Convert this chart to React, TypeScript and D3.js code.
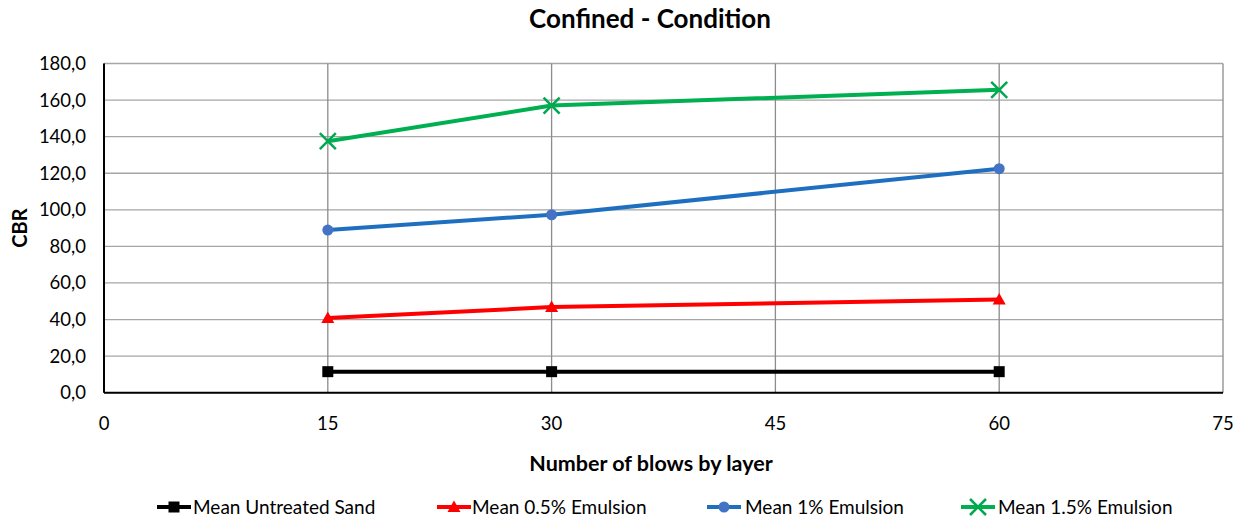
import React from "react";
import * as d3 from "d3";

const xValues = [15, 30, 60];
const untreated = [11.5, 11.5, 11.5];
const emul05 = [40.8, 46.8, 51.0];
const emul1 = [88.9, 97.3, 122.5];
const emul15 = [137.5, 157.0, 165.6];
const xTicks = [0, 15, 30, 45, 60, 75];
const yTicks = [0, 20, 40, 60, 80, 100, 120, 140, 160, 180];

const seriesList = [
  { name: "Mean Untreated Sand", values: untreated, color: "#000000", marker: "square", mcolor: "#000000" },
  { name: "Mean 0.5% Emulsion", values: emul05, color: "#ff0000", marker: "triangle", mcolor: "#ff0000" },
  { name: "Mean 1% Emulsion", values: emul1, color: "#1f6fc0", marker: "circle", mcolor: "#4472c4" },
  { name: "Mean 1.5% Emulsion", values: emul15, color: "#00b050", marker: "x", mcolor: "#00a84f" },
];

const FONT = "Lato, 'Open Sans', sans-serif";

function Marker({ type, x, y, color }: { type: string; x: number; y: number; color: string }) {
  if (type === "square") return <rect x={x - 5.5} y={y - 5.5} width={11} height={11} fill={color} />;
  if (type === "triangle") return <path d={`M${x},${y - 6.5} L${x + 6.5},${y + 5} L${x - 6.5},${y + 5} Z`} fill={color} />;
  if (type === "circle") return <circle cx={x} cy={y} r={5.5} fill={color} />;
  return (
    <g stroke={color} strokeWidth={2.5}>
      <line x1={x - 8} y1={y - 8} x2={x + 8} y2={y + 8} />
      <line x1={x - 8} y1={y + 8} x2={x + 8} y2={y - 8} />
    </g>
  );
}

export default function App() {
  const W = 1251, H = 520;
  const left = 104, right = 1223, top = 63.5, bottom = 392.7;
  const x = d3.scaleLinear().domain([0, 75]).range([left, right]);
  const y = d3.scaleLinear().domain([0, 180]).range([bottom, top]);
  const line = d3.line<[number, number]>().x(d => x(d[0])).y(d => y(d[1]));
  const fmt = (v: number) => v.toFixed(1).replace(".", ",");

  const legendItems = [
    { lx: 157, tx: 193 },
    { lx: 437, tx: 472 },
    { lx: 707, tx: 745 },
    { lx: 961, tx: 998 },
  ];

  return (
    <svg width={W} height={H} style={{ position: "absolute", left: 0, top: 0, background: "#fff" }} fontFamily={FONT}>
      <rect width={W} height={H} fill="#fff" />
      <text x={650} y={28} textAnchor="middle" fontSize={26} fontWeight="bold" fill="#000">Confined - Condition</text>
      {yTicks.map(t => (
        <line key={"gy" + t} x1={left} x2={right} y1={y(t)} y2={y(t)} stroke="#a6a6a6" strokeWidth={1.3} />
      ))}
      {xTicks.map(t => (
        <line key={"gx" + t} x1={x(t)} x2={x(t)} y1={top} y2={bottom} stroke="#8c8c8c" strokeWidth={1.3} />
      ))}
      <line x1={left} x2={left} y1={top} y2={bottom} stroke="#000" strokeWidth={2} />
      <line x1={left} x2={right} y1={bottom} y2={bottom} stroke="#000" strokeWidth={2} />
      {yTicks.map(t => (
        <text key={"yl" + t} x={86} y={y(t) + 6.5} textAnchor="end" fontSize={18.5} fill="#000">{fmt(t)}</text>
      ))}
      {xTicks.map(t => (
        <text key={"xl" + t} x={x(t)} y={430} textAnchor="middle" fontSize={18.5} fill="#000">{t}</text>
      ))}
      <text x={651} y={471} textAnchor="middle" fontSize={21.5} fontWeight="bold" fill="#000">Number of blows by layer</text>
      <text transform={`translate(27,${(top + bottom) / 2}) rotate(-90)`} textAnchor="middle" fontSize={20} fontWeight="bold" fill="#000">CBR</text>
      {seriesList.map(s => {
        const pts = xValues.map((xv, i) => [xv, s.values[i]] as [number, number]);
        return (
          <g key={s.name}>
            <path d={line(pts) || ""} fill="none" stroke={s.color} strokeWidth={4} strokeLinejoin="round" />
            {pts.map((p, i) => <Marker key={i} type={s.marker} x={x(p[0])} y={y(p[1])} color={s.mcolor} />)}
          </g>
        );
      })}
      {seriesList.map((s, i) => {
        const li = legendItems[i];
        const ly = 507;
        return (
          <g key={"lg" + s.name}>
            <line x1={li.lx} x2={li.lx + 34} y1={ly} y2={ly} stroke={s.color} strokeWidth={4} />
            <Marker type={s.marker} x={li.lx + 17} y={ly} color={s.mcolor} />
            <text x={li.tx} y={ly + 6.5} fontSize={19} fill="#000">{s.name}</text>
          </g>
        );
      })}
    </svg>
  );
}
